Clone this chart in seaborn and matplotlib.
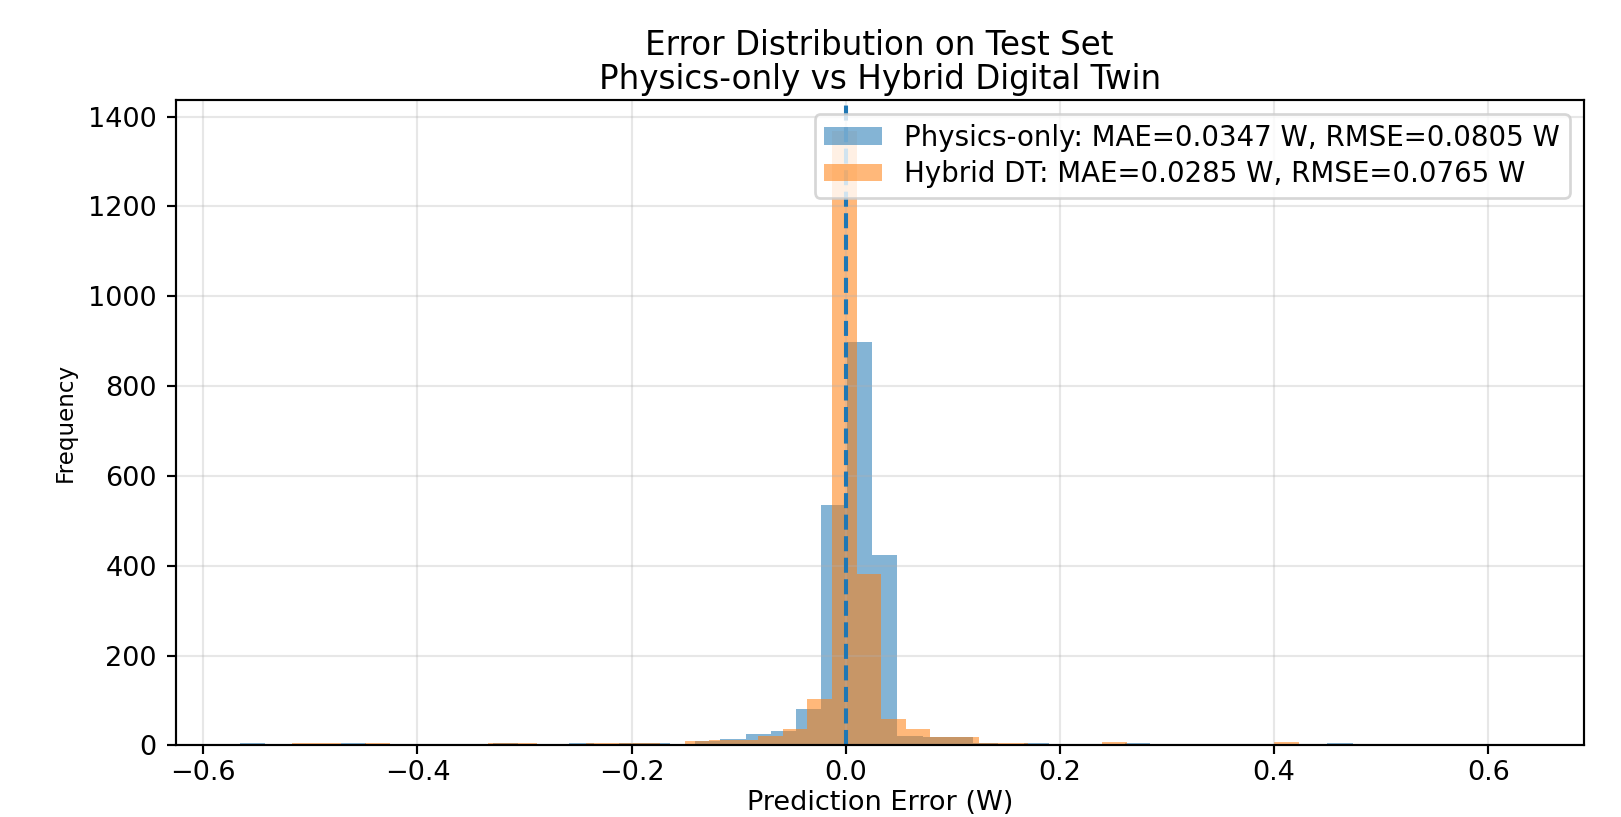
import numpy as np
import pandas as pd
import matplotlib
matplotlib.use("Agg")
import matplotlib.pyplot as plt
import seaborn as sns

# Histogram settings (range in W, number of bins)
physics_range = (-0.566, 0.5677)
physics_nbins = 48
hybrid_range = (-0.5175, 0.6293)
hybrid_nbins = 50

# Counts per bin, left to right
physics_counts = [5, 0, 4, 4, 5, 3, 0, 3, 3, 3,
                  6, 4, 4, 6, 4, 6, 6, 4, 9, 14,
                  26, 33, 82, 535, 898, 423, 20, 18, 18, 6,
                  4, 6, 4, 3, 3, 6, 4, 4, 4, 0,
                  0, 3, 4, 5, 4, 4, 4, 4]
hybrid_counts = [5, 5, 4, 5, 0, 3, 4, 3, 5, 6,
                 4, 4, 6, 6, 6, 4, 10, 11, 13, 21,
                 36, 104, 1368, 382, 59, 36, 18, 18, 6, 6,
                 4, 4, 3, 7, 4, 4, 4, 4, 0, 4,
                 7, 4, 3, 4, 4, 4, 4, 0, 4, 4]

physics_label = "Physics-only: MAE=0.0347 W, RMSE=0.0805 W"
hybrid_label = "Hybrid DT: MAE=0.0285 W, RMSE=0.0765 W"

# bin edges, and one error value per counted sample at the bin centre
edges_p = np.linspace(physics_range[0], physics_range[1], physics_nbins + 1)
edges_h = np.linspace(hybrid_range[0], hybrid_range[1], hybrid_nbins + 1)
err_p = np.repeat((edges_p[:-1] + edges_p[1:]) / 2, physics_counts)
err_h = np.repeat((edges_h[:-1] + edges_h[1:]) / 2, hybrid_counts)

dpi = 195
fig, ax = plt.subplots(figsize=(1621 / dpi, 817 / dpi), dpi=dpi)
fig.subplots_adjust(left=0.1084, right=0.977, bottom=0.0876, top=0.8772)

sns.histplot(x=err_p, bins=list(edges_p), color="C0", alpha=0.55,
             linewidth=0, label=physics_label, ax=ax)
sns.histplot(x=err_h, bins=list(edges_h), color="C1", alpha=0.55,
             linewidth=0, label=hybrid_label, ax=ax)

ax.axvline(0, linestyle="--", color="C0")
ax.grid(alpha=0.3)
ax.legend(loc="upper right", fontsize=10.2, labelspacing=0.3,
          handlelength=2.1, handleheight=0.6, borderpad=0.35)

ax.set_title("Error Distribution on Test Set\nPhysics-only vs Hybrid Digital Twin",
             pad=4, linespacing=1.05)
ax.set_xlabel("Prediction Error (W)", labelpad=1.2)
ax.set_ylabel("Frequency", fontsize=8.5)
ax.tick_params(axis="x", pad=2)

fig.savefig("out.png", dpi=dpi)
